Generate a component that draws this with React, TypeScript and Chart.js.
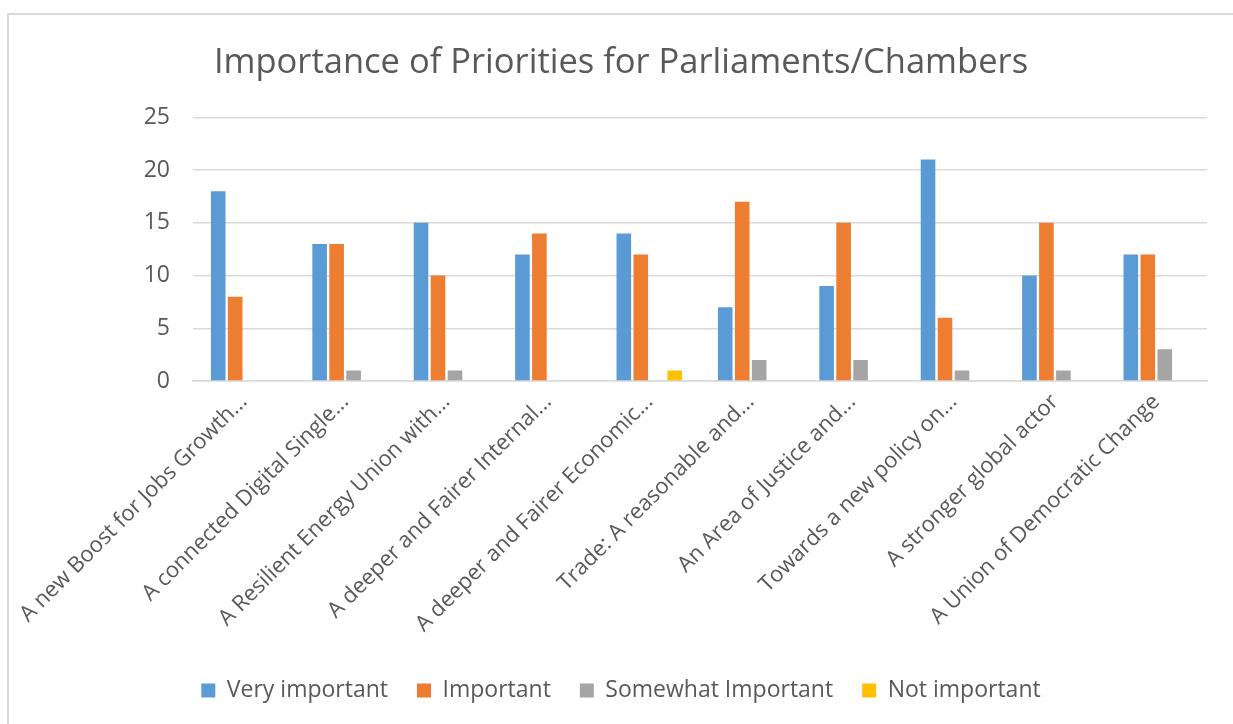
import React, { useEffect, useRef } from "react";
import { Chart, registerables } from "chart.js";

Chart.register(...registerables);

const categories = [
  "A new Boost for Jobs Growth...",
  "A connected Digital Single...",
  "A Resilient Energy Union with...",
  "A deeper and Fairer Internal...",
  "A deeper and Fairer Economic...",
  "Trade: A reasonable and...",
  "An Area of Justice and...",
  "Towards a new policy on...",
  "A stronger global actor",
  "A Union of Democratic Change",
];

const veryImportant = [18, 13, 15, 12, 14, 7, 9, 21, 10, 12];
const important = [8, 13, 10, 14, 12, 17, 15, 6, 15, 12];
const somewhatImportant = [0, 1, 1, 0, 0, 2, 2, 1, 1, 3];
const notImportant = [0, 0, 0, 0, 1, 0, 0, 0, 0, 0];

const seriesNames = ["Very important", "Important", "Somewhat Important", "Not important"];
const seriesColors = ["#5B9BD5", "#ED7D31", "#A5A5A5", "#FFC000"];

const TEXT = "#595959";
const FONT = "'Open Sans', sans-serif";

export default function App() {
  const ref = useRef<HTMLCanvasElement | null>(null);

  useEffect(() => {
    if (!ref.current) return;
    const values = [veryImportant, important, somewhatImportant, notImportant];
    const chart = new Chart(ref.current, {
      type: "bar",
      data: {
        labels: categories,
        datasets: values.map((v, i) => ({
          label: seriesNames[i],
          data: v,
          backgroundColor: seriesColors[i],
          borderWidth: 0,
          barPercentage: 0.86,
          categoryPercentage: 0.67,
        })),
      },
      options: {
        animation: false,
        responsive: false,
        maintainAspectRatio: false,
        layout: { padding: { left: 35, right: 26, top: 0, bottom: 12 } },
        plugins: {
          title: {
            display: true,
            text: "Importance of Priorities for Parliaments/Chambers",
            color: TEXT,
            font: { family: FONT, size: 34.5, weight: "normal" },
            padding: { top: 42, bottom: 34 },
          },
          legend: {
            position: "bottom",
            labels: {
              color: TEXT,
              font: { family: FONT, size: 23 },
              boxWidth: 14,
              boxHeight: 14,
              padding: 29,
            },
          },
          tooltip: { enabled: false },
        },
        scales: {
          x: {
            grid: { display: false, drawTicks: false },
            border: { display: true, color: "#D9D9D9", width: 1.5 },
            ticks: {
              color: TEXT,
              font: { family: FONT, size: 22 },
              maxRotation: 45,
              minRotation: 45,
              autoSkip: false,
              padding: 8,
            },
            afterFit: (scale: any) => {
              scale.height = 269;
            },
          },
          y: {
            min: 0,
            max: 25,
            grid: { color: "#D9D9D9", lineWidth: 1.5, drawTicks: false },
            border: { display: false },
            ticks: {
              stepSize: 5,
              color: TEXT,
              font: { family: FONT, size: 23 },
              padding: 23,
            },
            afterFit: (scale: any) => {
              scale.width = 158;
            },
          },
        },
      },
    });
    return () => chart.destroy();
  }, []);

  return (
    <div style={{ position: "fixed", left: 0, top: 0, width: 1233, height: 724, background: "#fff", overflow: "hidden" }}>
      <div
        style={{
          position: "absolute",
          left: 7,
          top: 13,
          width: 1240,
          height: 740,
          border: "2px solid #D9D9D9",
          boxSizing: "border-box",
        }}
      />
      <canvas ref={ref} width={1233} height={724} style={{ position: "absolute", left: 0, top: 0 }} />
    </div>
  );
}
